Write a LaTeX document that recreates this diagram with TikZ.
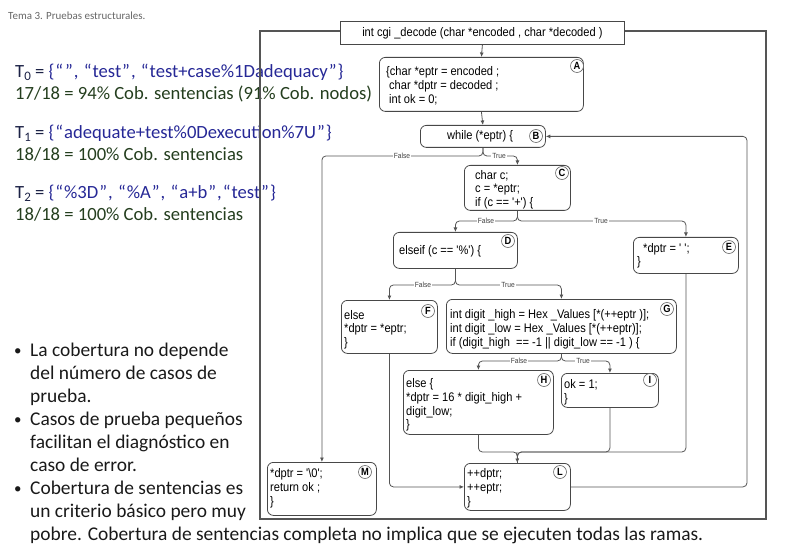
\documentclass[tikz,border=0pt]{standalone}
\usepackage{fontspec}
\setmainfont{Carlito}
\newfontfamily\codefont[FakeStretch=0.89]{Liberation Sans}
\usetikzlibrary{arrows.meta}
\definecolor{setblue}{RGB}{38,40,150}
\definecolor{tname}{RGB}{28,34,70}
\definecolor{covgreen}{RGB}{36,62,30}
\definecolor{bodytext}{RGB}{25,25,25}
\definecolor{linegray}{RGB}{85,85,85}
% curly quotes set a little apart, as in the test-set lines
\newcommand{\Qopen}{\kern1bp“\kern1bp}
\newcommand{\Qclose}{\kern1bp”\kern1bp}
\begin{document}
\begin{tikzpicture}[x=1bp,y=-1bp,
  block/.style={draw=black!72,line width=0.8bp,rounded corners=6bp,anchor=north west,inner sep=0,fill=white},
  code/.style={anchor=north west,inner sep=0,align=left,font=\codefont\fontsize{12.5}{13.7}\selectfont},
  badge/.style={circle,draw=black!60,fill=white,line width=0.6bp,inner sep=0,minimum size=13bp,font=\codefont\bfseries\fontsize{10.5}{10.5}\selectfont},
  flow/.style={draw=linegray,line width=0.8bp,rounded corners=4bp},
  tip/.style={-{Latex[length=4.5bp,width=4bp]}},
  br/.style={font=\codefont\fontsize{7.5}{7.5}\selectfont,fill=white,inner sep=0.8bp,text=black!75},
  slide/.style={anchor=base west,inner sep=0,font=\fontsize{18.7}{18.7}\selectfont},
  bullet/.style={anchor=base west,inner sep=0,font=\fontsize{19.5}{19.5}\selectfont,text=bodytext}]
\useasboundingbox (0,0) rectangle (790,558);

% ---- slide text ----
\node[anchor=base west,inner sep=0,font=\fontsize{11}{11}\selectfont,text=black!60] (title) at (8,20) {Tema 3. Pruebas estructurales.};

\node[slide] (t0) at (15,78) {\textcolor{tname}{T\raisebox{-3bp}{\fontsize{13}{13}\selectfont 0} =} \textcolor{setblue}{\{\Qopen\Qclose, \Qopen test\Qclose, \Qopen test+case\%1Dadequacy\Qclose\}}};
\node[slide,text=covgreen] (c0) at (15,100) {17/18 = 94\% Cob. sentencias (91\% Cob. nodos)};
\node[slide] (t1) at (15,139) {\textcolor{tname}{T\raisebox{-3bp}{\fontsize{13}{13}\selectfont 1} =} \textcolor{setblue}{\{\Qopen adequate+test\%0Dexecution\%7U\Qclose\}}};
\node[slide,text=covgreen] (c1) at (15,161) {18/18 = 100\% Cob. sentencias};
\node[slide] (t2) at (15,199) {\textcolor{tname}{T\raisebox{-3bp}{\fontsize{13}{13}\selectfont 2} =} \textcolor{setblue}{\{\Qopen\%3D\Qclose, \Qopen\%A\Qclose, \Qopen a+b\Qclose,\Qopen test\Qclose\}}};
\node[slide,text=covgreen] (c2) at (15,221) {18/18 = 100\% Cob. sentencias};

\node[bullet,font=\fontsize{15}{15}\selectfont] (b1) at (14,355) {•};
\node[bullet] (l1) at (30,356) {La cobertura no depende};
\node[bullet] (l2) at (30,379) {del número de casos de};
\node[bullet] (l3) at (30,402) {prueba.};
\node[bullet,font=\fontsize{15}{15}\selectfont] (b2) at (14,424) {•};
\node[bullet] (l4) at (30,425) {Casos de prueba pequeños};
\node[bullet] (l5) at (30,448) {facilitan el diagnóstico en};
\node[bullet] (l6) at (30,471) {caso de error.};
\node[bullet,font=\fontsize{15}{15}\selectfont] (b3) at (14,493) {•};
\node[bullet] (l7) at (30,494) {Cobertura de sentencias es};
\node[bullet] (l8) at (30,517) {un criterio básico pero muy};
\node[bullet] (l9) at (30,540) {pobre. Cobertura de sentencias completa no implica que se ejecuten todas las ramas.};

% ---- outer frame and header ----
\draw[draw=linegray,line width=1.1bp] (260,31) rectangle (766,519);
\node[draw=black!72,line width=0.8bp,fill=white,anchor=north west,inner sep=0,minimum width=284bp,minimum height=23bp,font=\codefont\fontsize{12.5}{12.5}\selectfont] (hdr) at (340,21) {int cgi \_decode (char *encoded , char *decoded )};

% ---- blocks ----
\node[block,minimum width=204bp,minimum height=54bp] (A) at (379,57) {};
\node[block,minimum width=125bp,minimum height=22bp] (B) at (420,125) {};
\node[block,minimum width=106bp,minimum height=45bp] (C) at (464,165) {};
\node[block,minimum width=124bp,minimum height=36bp] (D) at (393,232) {};
\node[block,minimum width=105bp,minimum height=36bp] (E) at (633,237) {};
\node[block,minimum width=96bp,minimum height=53bp] (F) at (341,300) {};
\node[block,minimum width=230bp,minimum height=54bp] (G) at (446,299) {};
\node[block,minimum width=150bp,minimum height=64bp] (H) at (403,370) {};
\node[block,minimum width=97bp,minimum height=34bp] (I) at (561,373) {};
\node[block,minimum width=106bp,minimum height=47bp] (L) at (464,463) {};
\node[block,minimum width=109bp,minimum height=53bp] (M) at (267,462) {};

% ---- block contents ----
\node[code] (Atx) at (386,66.5) {\{char *eptr = encoded ;\\\hspace{3bp}char *dptr = decoded ;\\\hspace{3bp}int ok = 0;};
\node[code,anchor=base west] (Btx) at (447,140) {while (*eptr) \{};
\node[code] (Ctx) at (475,170) {char c;\\c = *eptr;\\if (c == '+') \{};
\node[code,anchor=base west] (Dtx) at (399,254.5) {elseif (c == '\%') \{};
\node[code] (Etx) at (637,243) {\hspace{6bp}*dptr = ' ';\\\}};
\node[code] (Ftx) at (344,310) {else\\*dptr = *eptr;\\\}};
\node[code] (Gtx) at (450,309.5) {int digit \_high = Hex \_Values [*(++eptr )];\\int digit \_low = Hex \_Values [*(++eptr)];\\if (digit\_high\ \ == -1 || digit\_low == -1 ) \{};
\node[code] (Htx) at (406,378.5) {else \{\\*dptr = 16 * digit\_high +\\digit\_low;\\\}};
\node[code] (Itx) at (564,379.5) {ok = 1;\\\}};
\node[code] (Ltx) at (467,468.5) {++dptr;\\++eptr;\\\}};
\node[code] (Mtx) at (270,468.5) {*dptr = '\textbackslash 0';\\return ok ;\\\}};

% ---- block labels ----
\node[badge] (Ab) at (577,66) {A};
\node[badge] (Bb) at (536,136) {B};
\node[badge] (Cb) at (562,173) {C};
\node[badge] (Db) at (508,241) {D};
\node[badge] (Eb) at (729,247) {E};
\node[badge] (Fb) at (428,311) {F};
\node[badge] (Gb) at (667,309) {G};
\node[badge] (Hb) at (544,380) {H};
\node[badge] (Ib) at (650,380) {I};
\node[badge] (Lb) at (560,472) {L};
\node[badge] (Mb) at (365,472) {M};

% ---- control flow ----
\coordinate (Bj) at (482,156);
\coordinate (Cj) at (517,221);
\coordinate (Dj) at (455,285);
\coordinate (Gj) at (561,361);
\coordinate (Lj) at (517,452);
\coordinate (loop) at (747,300);

\draw[flow,tip] (hdr.south) -- (A.north);
\draw[flow,tip] (A.south) -- (B.north);

\draw[flow,tip] (B.south) |- (M.north |- Bj) -- (M.north);
\draw[flow,tip] (B.south) |- (C.north |- Bj) -- (C.north);
\node[br] (Bf) at (402,156) {False};
\node[br] (Bt) at (499,156) {True};

\draw[flow,tip] (C.south) |- (D.north |- Cj) -- (D.north);
\draw[flow,tip] (C.south) |- (E.north |- Cj) -- (E.north);
\node[br] (Cf) at (486,221) {False};
\node[br] (Ct) at (601,221) {True};

\draw[flow,tip] (D.south) |- (F.north |- Dj) -- (F.north);
\draw[flow,tip] (D.south) |- (G.north |- Dj) -- (G.north);
\node[br] (Df) at (423,285) {False};
\node[br] (Dt) at (508,285) {True};

\draw[flow,tip] (G.south) |- (H.north |- Gj) -- (H.north);
\draw[flow,tip] (G.south) |- (I.north |- Gj) -- (I.north);
\node[br] (Gf) at (519,361) {False};
\node[br] (Gt) at (583,361) {True};

\draw[flow,tip] (F.south) |- (L.west);
\draw[flow] (H.south) |- (L.north |- Lj) -- (L.north);
\draw[flow] (I.south) |- (L.north |- Lj) -- (L.north);
\draw[flow] (E.south) |- (L.north |- Lj) -- (L.north);
\draw[flow,tip] (Lj) -- (L.north);

\draw[flow,tip] (L.east) -| (loop) |- (B.east);
\end{tikzpicture}
\end{document}
